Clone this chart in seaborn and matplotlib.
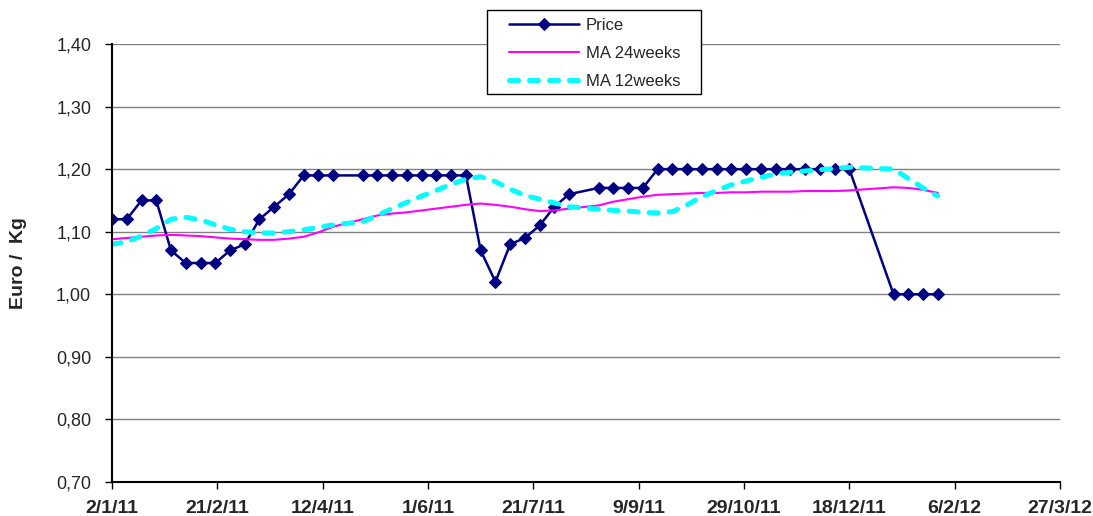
import pandas as pd
import matplotlib.pyplot as plt
import seaborn as sns
import numpy as np
from matplotlib.patches import Rectangle


# weekly observations (week number from 2/1/11); some weeks are missing in the source
weeks = [0, 1, 2, 3, 4, 5, 6, 7, 8, 9, 10, 11, 12, 13, 14, 15,
         17, 18, 19, 20, 21, 22, 23, 24, 25, 26, 27, 28, 29, 30, 31,
         33, 34, 35, 36, 37, 38, 39, 40, 41, 42, 43, 44, 45, 46, 47, 48, 49, 50,
         53, 54, 55, 56]

price = [1.12, 1.12, 1.15, 1.15, 1.07, 1.05, 1.05, 1.05, 1.07, 1.08, 1.12, 1.14, 1.16, 1.19, 1.19, 1.19,
         1.19, 1.19, 1.19, 1.19, 1.19, 1.19, 1.19, 1.19, 1.07, 1.02, 1.08, 1.09, 1.11, 1.14, 1.16,
         1.17, 1.17, 1.17, 1.17, 1.20, 1.20, 1.20, 1.20, 1.20, 1.20, 1.20, 1.20, 1.20, 1.20, 1.20, 1.20, 1.20, 1.20,
         1.00, 1.00, 1.00, 1.00]

ma24 = [1.088, 1.090, 1.092, 1.094, 1.095, 1.094, 1.093, 1.091, 1.089, 1.088, 1.087, 1.087, 1.089, 1.092, 1.099, 1.108,
        1.120, 1.126, 1.129, 1.131, 1.134, 1.137, 1.140, 1.143, 1.145, 1.143, 1.140, 1.136, 1.133, 1.134, 1.137,
        1.142, 1.148, 1.152, 1.156, 1.159, 1.160, 1.161, 1.162, 1.162, 1.163, 1.163, 1.164, 1.164, 1.164, 1.165, 1.165, 1.165, 1.166,
        1.171, 1.170, 1.167, 1.162]

ma12 = [1.080, 1.084, 1.093, 1.105, 1.120, 1.123, 1.119, 1.111, 1.104, 1.100, 1.098, 1.098, 1.100, 1.103, 1.107, 1.111,
        1.116, 1.126, 1.137, 1.147, 1.157, 1.166, 1.176, 1.184, 1.188, 1.180, 1.168, 1.158, 1.152, 1.146, 1.140,
        1.136, 1.134, 1.133, 1.131, 1.130, 1.132, 1.143, 1.156, 1.166, 1.175, 1.181, 1.187, 1.192, 1.195, 1.197, 1.199, 1.201, 1.203,
        1.200, 1.185, 1.170, 1.157]

y_ticks = [0.70, 0.80, 0.90, 1.00, 1.10, 1.20, 1.30, 1.40]

start = pd.Timestamp('2011-01-02')
df = pd.DataFrame({
    'date': [start + pd.Timedelta(weeks=w) for w in weeks],
    'Price': price,
    'MA 24weeks': ma24,
    'MA 12weeks': ma12,
})
x_ticks = pd.date_range(start, periods=10, freq='50D')

sns.set_style('white')
plt.rcParams['font.family'] = ['Liberation Sans', 'DejaVu Sans']

fig = plt.figure(figsize=(10.93, 5.16), dpi=100)
ax = fig.add_axes([0.1025, 0.0659, 0.8673, 0.8488])

sns.lineplot(data=df, x='date', y='Price', ax=ax, color='#000080', linewidth=1.8,
             marker='D', markersize=6.3, markeredgecolor='#000080', label='Price')
sns.lineplot(data=df, x='date', y='MA 24weeks', ax=ax, color='#FF00FF', linewidth=1.5,
             label='MA 24weeks')
sns.lineplot(data=df, x='date', y='MA 12weeks', ax=ax, color='#00FFFF', linewidth=3.6,
             linestyle=(0, (1.8, 2.2)), dash_capstyle='round', label='MA 12weeks')

ax.set_xlim(x_ticks[0], x_ticks[-1])
ax.set_ylim(0.70, 1.40)
ax.set_xticks(x_ticks)
ax.set_xticklabels([f"{d.day}/{d.month}/{d.year % 100:02d}" for d in x_ticks],
                   fontsize=14, fontweight='bold')
ax.set_yticks(y_ticks)
ax.set_yticklabels([f"{v:.2f}".replace('.', ',') for v in y_ticks], fontsize=13)
ax.tick_params(axis='y', direction='out', length=5, width=1, pad=10, left=True, color='black')
ax.tick_params(axis='x', direction='out', length=5, width=1, pad=8, bottom=True, color='black')

for v in y_ticks[1:]:
    ax.axhline(v, color='#808080', linewidth=1, zorder=0)

for s in ['top', 'right']:
    ax.spines[s].set_visible(False)
for s in ['left', 'bottom']:
    ax.spines[s].set_color('black')
    ax.spines[s].set_linewidth(1.5)

ax.set_xlabel('')
ax.set_ylabel('Euro /  Kg', fontsize=14, fontweight='bold')
ax.yaxis.set_label_coords(-0.09, 0.5)

# legend box sits above the plot area, like the Excel original
W, H = 1093, 516
ax.add_patch(Rectangle((487 / W, 1 - 94 / H), 214 / W, 84 / H, transform=fig.transFigure,
                       facecolor='white', edgecolor='black', linewidth=1, zorder=5, clip_on=False))
leg = ax.legend(loc='upper left', bbox_to_anchor=(509 / W, 1 - 18 / H), bbox_transform=fig.transFigure,
                fontsize=12, frameon=False, handlelength=4.2, handletextpad=0.4,
                labelspacing=0.78, borderpad=0, borderaxespad=0)
leg.set_zorder(6)

fig.savefig('out.png', dpi=100)
